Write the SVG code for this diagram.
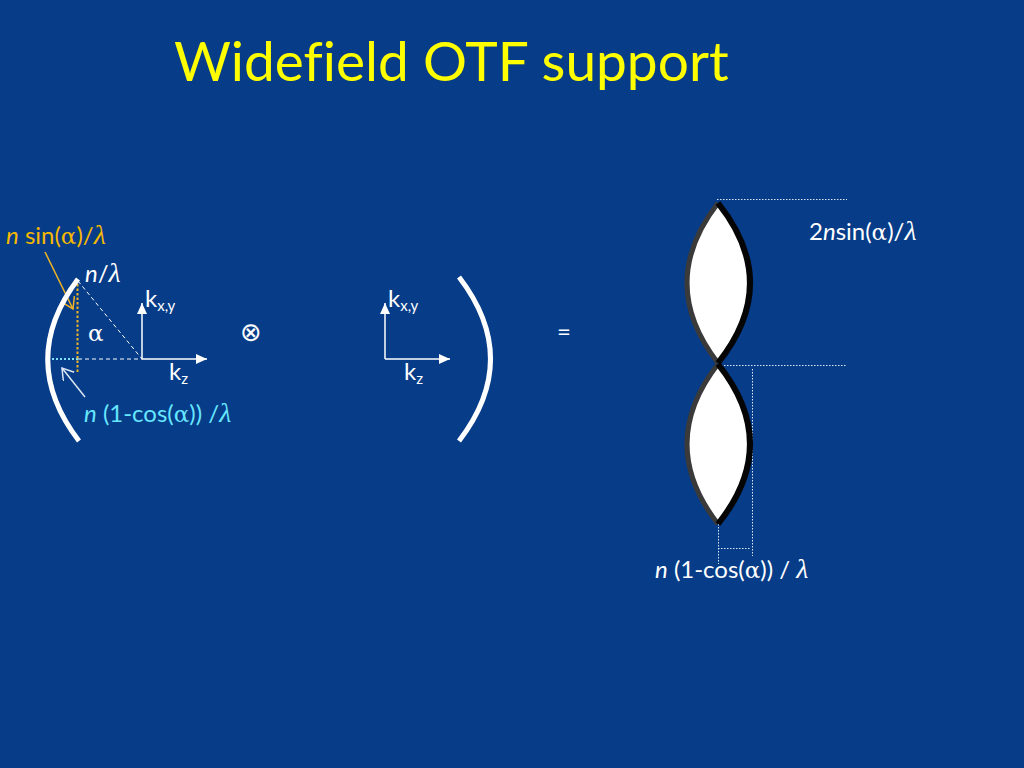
<svg xmlns="http://www.w3.org/2000/svg" width="1024" height="768" viewBox="0 0 1024 768">
<style>
text{font-family:"Lato","Open Sans","Liberation Sans",sans-serif;font-size:24px;fill:#fff;font-variant-ligatures:none}
.g{font-family:"Liberation Serif","DejaVu Serif",serif;font-size:28px}
.al{font-family:"DejaVu Serif","Liberation Serif",serif;font-size:23px}
.i{font-style:italic}
.s{font-size:15px}
.arc{fill:none;stroke:#fff;stroke-width:5}
.ax{fill:none;stroke:#fff;stroke-width:1.5}
.dot{fill:none;stroke:#dce6f5;stroke-width:1;stroke-dasharray:1.5 1.5}
.dash{fill:none;stroke:#fff;stroke-width:1;stroke-dasharray:4 3}
</style>
<defs>
<marker id="a" markerUnits="userSpaceOnUse" markerWidth="14" markerHeight="12" refX="11" refY="5" orient="auto"><path d="M0 0L11 5L0 10Z" fill="#fff"/></marker>
<marker id="o" markerUnits="userSpaceOnUse" markerWidth="14" markerHeight="16" refX="11" refY="7" orient="auto"><path d="M0 0L11 7L0 14" fill="none" stroke="#f0b323" stroke-width="1.5"/></marker>
<marker id="w" markerUnits="userSpaceOnUse" markerWidth="14" markerHeight="16" refX="11" refY="7" orient="auto"><path d="M0 0L11 7L0 14" fill="none" stroke="#dce6f5" stroke-width="1.5"/></marker>
<g id="lens">
<path d="M718 203Q656 283 718 363Q780 283 718 203Z" fill="#fff"/>
<path d="M718 203Q656 283 718 363" fill="none" stroke="#3a3a3a" stroke-width="5"/>
<path d="M718 203Q782 283 718 363" fill="none" stroke="#050505" stroke-width="6"/>
</g>
</defs>
<rect id="background" width="1024" height="768" fill="#063c88"/>
<text id="title" x="174" y="81" style="font-size:55px;fill:#ffff00">Widefield OTF support</text>
<g id="connectors">
<path class="dash" d="M78 281L142 359M78 359H142"/>
<path d="M52 359H78" fill="none" stroke="#7fe3f5" stroke-width="2" stroke-dasharray="2 2"/>
<path d="M77.500 284V372" fill="none" stroke="#f0b323" stroke-width="2" stroke-dasharray="2.500 2"/>
<path d="M45 252L73 309" fill="none" stroke="#f0b323" stroke-width="1.500" marker-end="url(#o)"/>
<path d="M85 397L62 368" fill="none" stroke="#dce6f5" stroke-width="1.500" marker-end="url(#w)"/>
<path class="ax" d="M142 359V303" marker-end="url(#a)"/>
<path class="ax" d="M142 359H207" marker-end="url(#a)"/>
<path class="ax" d="M385 359V303" marker-end="url(#a)"/>
<path class="ax" d="M385 359H450" marker-end="url(#a)"/>
<path class="dot" d="M717 199.500H847"/>
<path class="dot" d="M718 365.500H847"/>
<path class="dot" d="M752.500 369V556"/>
<path class="dot" d="M718.500 524V564"/>
<path class="dot" d="M718 548.500H750"/>
</g>
<g id="left-sphere"><path class="arc" d="M78 279Q17 360 79 441"/></g>
<g id="right-sphere"><path class="arc" d="M459 277Q522 359 459 441"/></g>
<g id="lens-top"><use href="#lens"/></g>
<g id="lens-bottom"><use href="#lens" y="161"/></g>
<g id="labels">
<text x="6" y="244" style="fill:#f5b800"><tspan class="i">n</tspan> sin(<tspan class="al">α</tspan>)/<tspan class="g i">λ</tspan></text>
<text x="85" y="282"><tspan class="i">n</tspan>/<tspan class="g i">λ</tspan></text>
<text class="al" x="88" y="341">α</text>
<text x="145" y="307">k<tspan class="s" dy="4">x,y</tspan></text>
<text x="169" y="380">k<tspan class="s" dy="4">z</tspan></text>
<text x="84" y="422" style="fill:#66e6ff"><tspan class="i">n</tspan> (1-cos(<tspan class="al">α</tspan>)) /<tspan class="g i">λ</tspan></text>
<text x="240" y="341" style="font-family:'DejaVu Sans',sans-serif;font-size:26px">⊗</text>
<text x="388" y="307">k<tspan class="s" dy="4">x,y</tspan></text>
<text x="404" y="380">k<tspan class="s" dy="4">z</tspan></text>
<text x="557" y="340">=</text>
<text x="809" y="240">2<tspan class="i">n</tspan>sin(<tspan class="al">α</tspan>)/<tspan class="g i">λ</tspan></text>
<text x="655" y="578"><tspan class="i">n</tspan> (1-cos(<tspan class="al">α</tspan>)) / <tspan class="g i">λ</tspan></text>
</g>
</svg>
